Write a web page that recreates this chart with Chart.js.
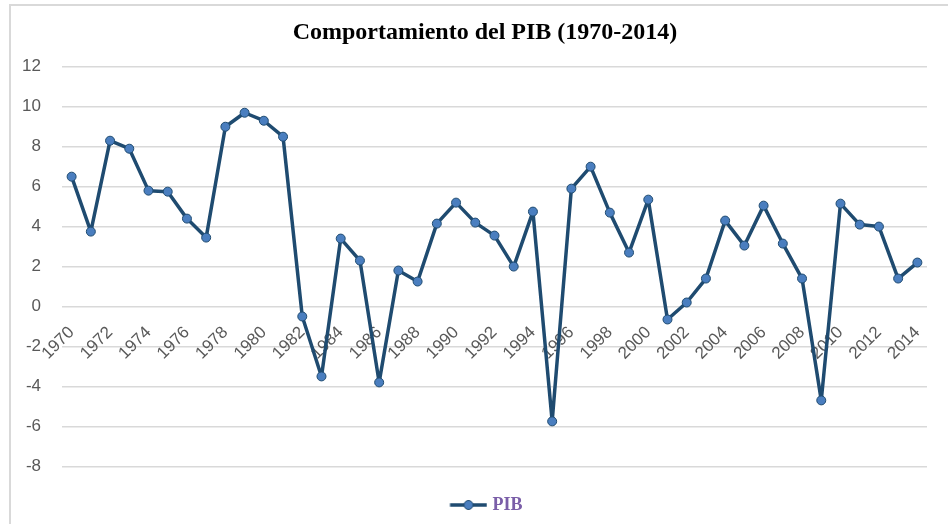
<!DOCTYPE html>
<html>
<head>
<meta charset="utf-8">
<script src="https://cdn.jsdelivr.net/npm/chart.js@4/dist/chart.umd.min.js"></script>
<style>
  html, body { margin: 0; padding: 0; background: #fff; }
  #wrap { position: relative; width: 948px; height: 524px; overflow: hidden; }
  #frame { position: absolute; left: 9px; top: 4px; width: 960px; height: 540px;
           border-top: 2px solid #d9d9d9; border-left: 2px solid #d9d9d9; }
  canvas { position: absolute; left: 0; top: 0; }
</style>
</head>
<body>
<div id="wrap">
  <div id="frame"></div>
  <canvas id="c" width="948" height="524"></canvas>
</div>
<script>
const years = [1970,1971,1972,1973,1974,1975,1976,1977,1978,1979,
               1980,1981,1982,1983,1984,1985,1986,1987,1988,1989,
               1990,1991,1992,1993,1994,1995,1996,1997,1998,1999,
               2000,2001,2002,2003,2004,2005,2006,2007,2008,2009,
               2010,2011,2012,2013,2014];
const pib = [6.5, 3.75, 8.3, 7.9, 5.8, 5.75, 4.4, 3.45, 9.0, 9.7,
             9.3, 8.5, -0.5, -3.5, 3.4, 2.3, -3.8, 1.8, 1.25, 4.15,
             5.2, 4.2, 3.55, 2.0, 4.75, -5.75, 5.9, 7.0, 4.7, 2.7,
             5.35, -0.65, 0.2, 1.4, 4.3, 3.05, 5.05, 3.15, 1.4, -4.7,
             5.15, 4.1, 4.0, 1.4, 2.2];
const yTicks = [12, 10, 8, 6, 4, 2, 0, -2, -4, -6, -8];
const seriesName = 'PIB';
const titleText = 'Comportamiento del PIB (1970-2014)';

const lineColor = '#1f4b70';
const pointFill = '#4a7ebf';

// legend marker: line with a dot
const mk = document.createElement('canvas');
mk.width = 44; mk.height = 12;
(function(){
  const g = mk.getContext('2d');
  g.strokeStyle = lineColor; g.lineWidth = 3.5;
  g.beginPath(); g.moveTo(6.5, 6); g.lineTo(43.5, 6); g.stroke();
  g.fillStyle = pointFill; g.strokeStyle = lineColor; g.lineWidth = 1;
  g.beginPath(); g.arc(25, 6, 4.5, 0, Math.PI * 2); g.fill(); g.stroke();
})();

// shift title and legend so they centre on the same x as the reference
const shiftBlocks = {
  id: 'shiftBlocks',
  afterLayout(chart) {
    if (chart.titleBlock) chart.titleBlock.left += 30;
    if (chart.legend) chart.legend.left += 30;
  }
};

new Chart(document.getElementById('c'), {
  type: 'line',
  data: {
    labels: years.map(String),
    datasets: [{
      label: seriesName,
      data: pib,
      borderColor: lineColor,
      borderWidth: 3.5,
      borderJoinStyle: 'round',
      borderCapStyle: 'round',
      backgroundColor: pointFill,
      pointBackgroundColor: pointFill,
      pointBorderColor: lineColor,
      pointBorderWidth: 1,
      pointRadius: 4.5,
      tension: 0,
      fill: false
    }]
  },
  plugins: [shiftBlocks],
  options: {
    responsive: false,
    animation: false,
    layout: { padding: { left: 10, right: 18, top: 0, bottom: 0 } },
    plugins: {
      title: {
        display: true,
        text: titleText,
        color: '#000',
        font: { family: '"Liberation Serif", "Times New Roman", serif', size: 24, weight: 'bold' },
        padding: { top: 18, bottom: 20 }
      },
      legend: {
        position: 'bottom',
        title: { display: true, text: ' ', font: { size: 2 }, padding: { top: 13.3, bottom: 0 } },
        labels: {
          usePointStyle: true,
          pointStyleWidth: 36,
          boxHeight: 12,
          padding: 14,
          color: '#7a5ea8',
          font: { family: '"Liberation Serif", "Times New Roman", serif', size: 18, weight: 'bold' },
          generateLabels: (chart) => [{
            text: seriesName,
            pointStyle: mk,
            fillStyle: pointFill,
            strokeStyle: lineColor,
            lineWidth: 0,
            hidden: false,
            datasetIndex: 0,
            fontColor: '#7a5ea8'
          }]
        }
      },
      tooltip: { enabled: false }
    },
    scales: {
      x: {
        type: 'category',
        offset: true,
        position: { y: 0 },
        grid: { display: false, drawTicks: false },
        border: { display: false },
        ticks: {
          autoSkip: false,
          minRotation: 45,
          maxRotation: 45,
          padding: 16,
          color: '#595959',
          font: { family: '"Liberation Sans", Arial, sans-serif', size: 17 },
          callback: function(v, i) { return (years[i] % 2 === 0) ? String(years[i]) : ''; }
        }
      },
      y: {
        min: -8,
        max: 12,
        afterBuildTicks: (s) => { s.ticks = yTicks.map(v => ({ value: v })); },
        afterFit: (s) => { s.width = 52; },
        grid: { color: '#d9d9d9', lineWidth: 1.5, drawTicks: false },
        border: { display: false },
        ticks: {
          padding: 21,
          color: '#595959',
          font: { family: '"Liberation Sans", Arial, sans-serif', size: 17 }
        }
      }
    }
  }
});
</script>
</body>
</html>
